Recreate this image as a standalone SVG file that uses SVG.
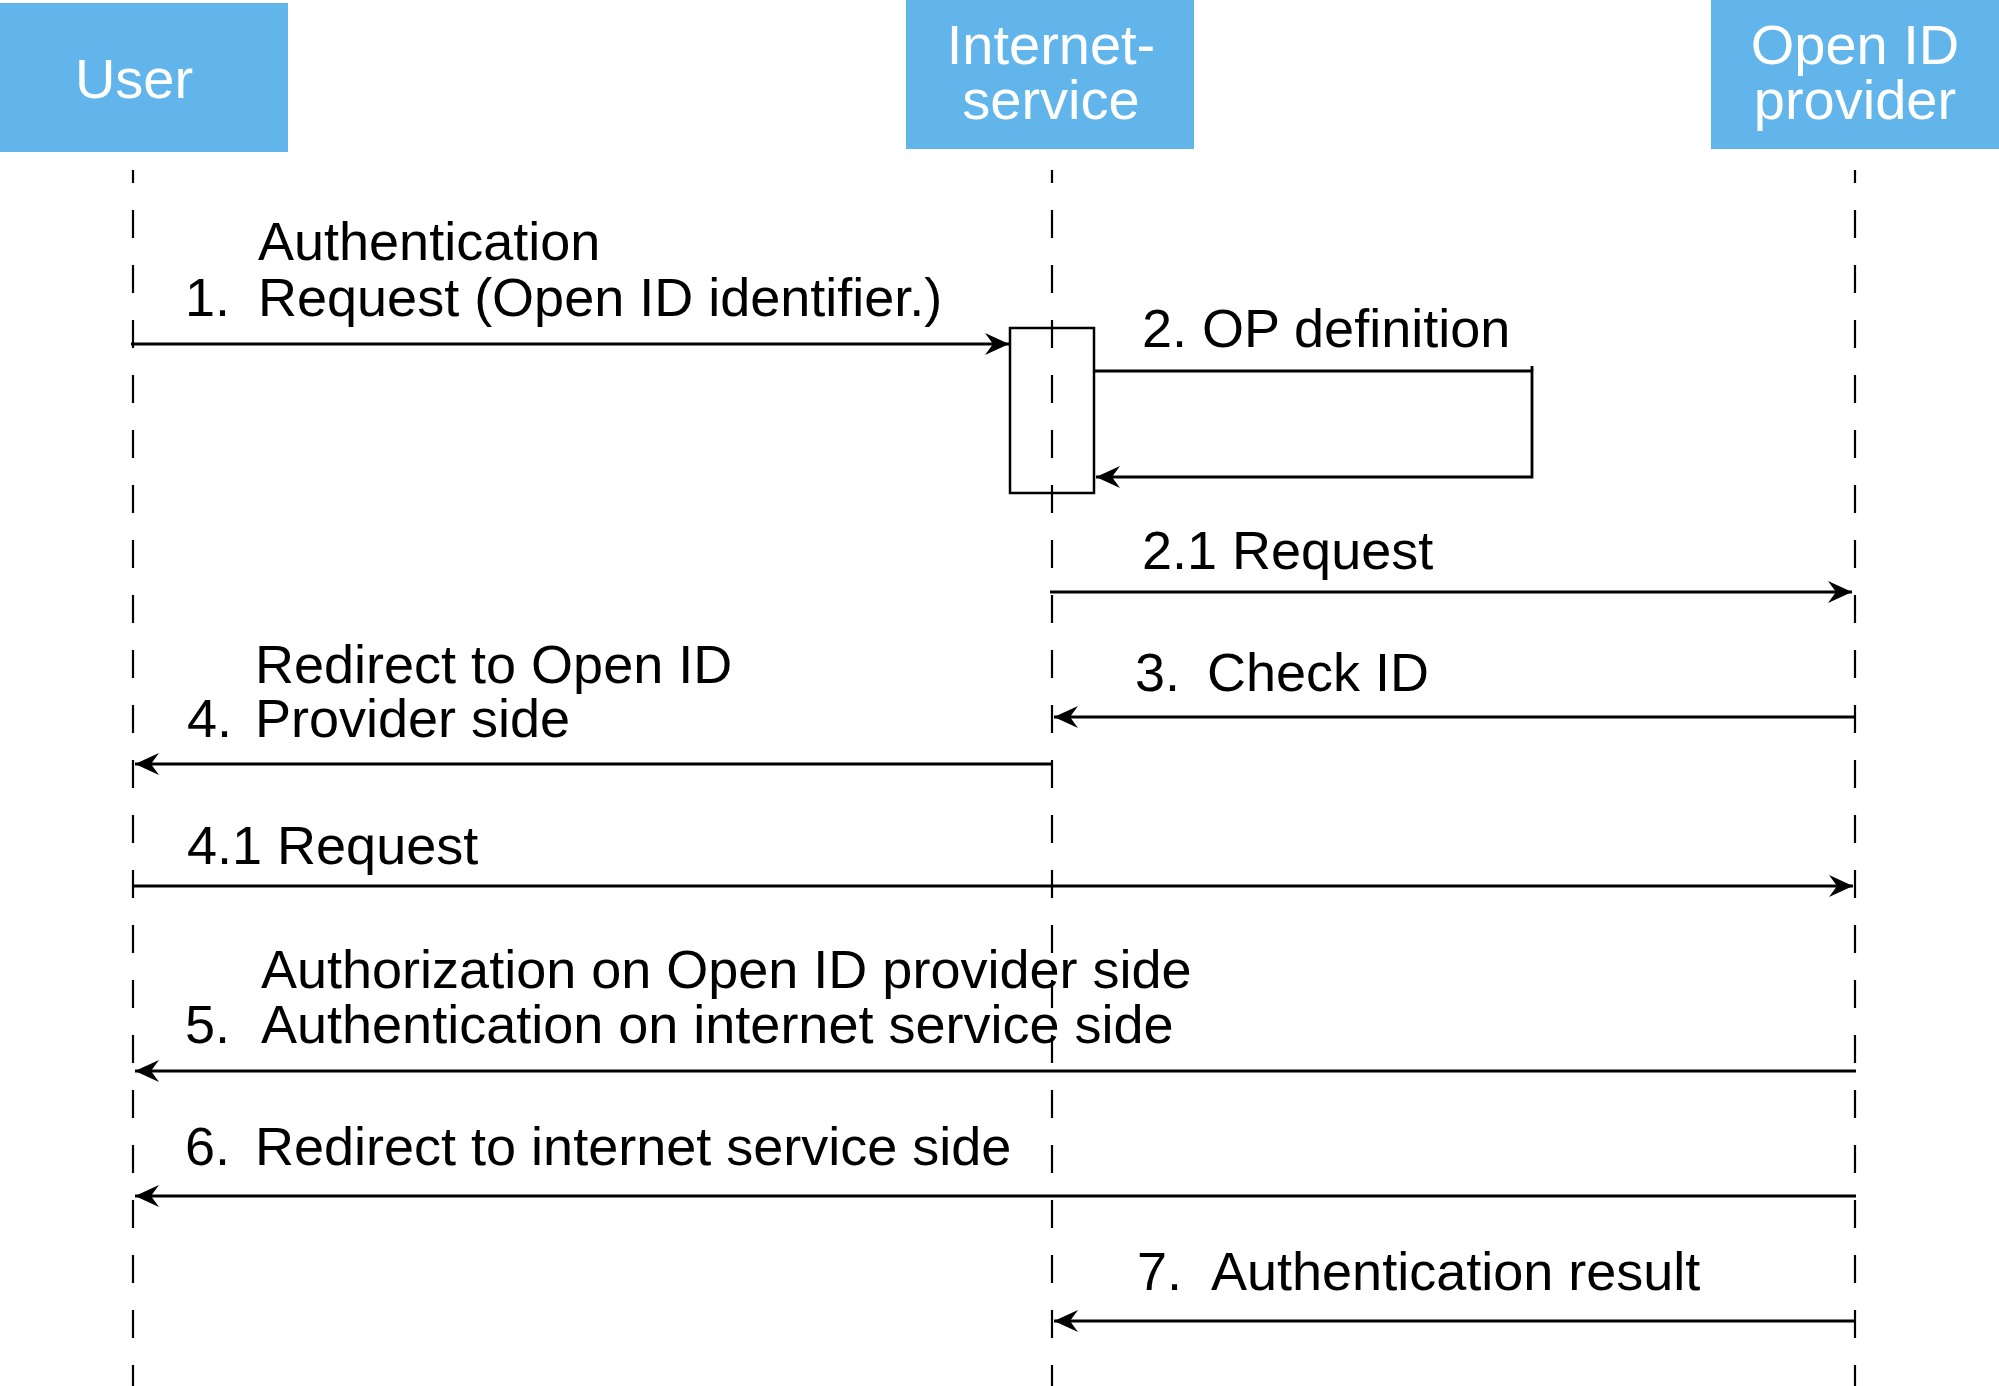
<svg xmlns="http://www.w3.org/2000/svg" width="1999" height="1386" viewBox="0 0 1999 1386">
<style>
.hdr{fill:#62b5eb}
.ht{font-family:"Liberation Sans",Arial,sans-serif;font-size:56px;fill:#ffffff;text-anchor:middle}
.lbl{font-family:"Liberation Sans",Arial,sans-serif;font-size:54px;fill:#000000}
.life{stroke:#000;stroke-width:2.2;stroke-dasharray:28 27;stroke-dashoffset:15;fill:none}
.msg{stroke:#000;stroke-width:2.8;fill:none}
</style>
<defs>
<marker id="ah" markerUnits="userSpaceOnUse" markerWidth="28" markerHeight="24" viewBox="-26 -12 28 24" refX="0" refY="0" orient="auto">
<path d="M0,0 L-24,-11 L-16,0 L-24,11 Z" fill="#000"/>
</marker>
</defs>
<g id="user">
<rect class="hdr" x="0" y="3" width="288" height="149"/>
<text class="ht" x="134" y="98">User</text>
</g>
<g id="internet-service">
<rect class="hdr" x="906" y="0" width="288" height="149"/>
<text class="ht" x="1051" y="64">Internet-</text>
<text class="ht" x="1051" y="119">service</text>
</g>
<g id="openid-provider">
<rect class="hdr" x="1711" y="0" width="288" height="149"/>
<text class="ht" x="1855" y="64">Open ID</text>
<text class="ht" x="1855" y="119">provider</text>
</g>
<g id="lifelines">
<line class="life" x1="133" y1="170" x2="133" y2="1386"/>
<line class="life" x1="1052" y1="170" x2="1052" y2="1386"/>
<line class="life" x1="1855" y1="170" x2="1855" y2="1386"/>
</g>
<g id="activation">
<rect x="1010" y="328" width="84" height="165" fill="none" stroke="#000" stroke-width="2.5"/>
</g>
<g id="connectors">
<line class="msg" x1="131" y1="344" x2="1009" y2="344" marker-end="url(#ah)"/>
<polyline class="msg" points="1094,371 1532,371 1532,477 1096,477" marker-end="url(#ah)"/>
<line class="msg" x1="1532" y1="366" x2="1532" y2="371"/>
<line class="msg" x1="1050" y1="592" x2="1852" y2="592" marker-end="url(#ah)"/>
<line class="msg" x1="1856" y1="717" x2="1054" y2="717" marker-end="url(#ah)"/>
<line class="msg" x1="1053" y1="764" x2="135" y2="764" marker-end="url(#ah)"/>
<line class="msg" x1="132" y1="886" x2="1853" y2="886" marker-end="url(#ah)"/>
<line class="msg" x1="1856" y1="1071" x2="135" y2="1071" marker-end="url(#ah)"/>
<line class="msg" x1="1856" y1="1196" x2="135" y2="1196" marker-end="url(#ah)"/>
<line class="msg" x1="1856" y1="1321" x2="1054" y2="1321" marker-end="url(#ah)"/>
</g>
<g id="labels">
<text class="lbl" x="258" y="260">Authentication</text>
<text class="lbl" x="185" y="316">1.</text>
<text class="lbl" x="258" y="316">Request (Open ID identifier.)</text>
<text class="lbl" x="1142" y="347">2. OP definition</text>
<text class="lbl" x="1142" y="569">2.1 Request</text>
<text class="lbl" x="1135" y="691">3.</text>
<text class="lbl" x="1207" y="691">Check ID</text>
<text class="lbl" x="255" y="683">Redirect to Open ID</text>
<text class="lbl" x="187" y="737">4.</text>
<text class="lbl" x="255" y="737">Provider side</text>
<text class="lbl" x="187" y="864">4.1 Request</text>
<text class="lbl" x="261" y="988">Authorization on Open ID provider side</text>
<text class="lbl" x="185" y="1043">5.</text>
<text class="lbl" x="261" y="1043">Authentication on internet service side</text>
<text class="lbl" x="185" y="1165">6.</text>
<text class="lbl" x="255" y="1165">Redirect to internet service side</text>
<text class="lbl" x="1137" y="1290">7.</text>
<text class="lbl" x="1211" y="1290">Authentication result</text>
</g>
</svg>
